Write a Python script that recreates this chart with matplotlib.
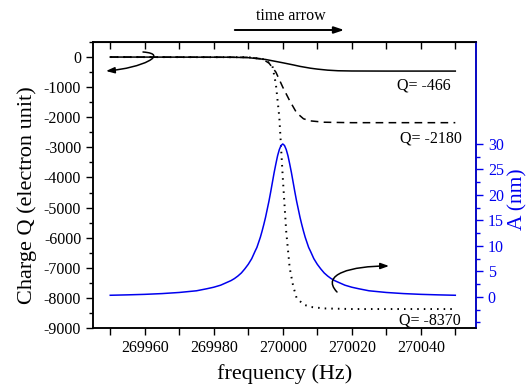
import matplotlib
matplotlib.use("Agg")
from matplotlib import pyplot as plt
from matplotlib.path import Path
from matplotlib.patches import FancyArrowPatch
from matplotlib.ticker import MultipleLocator, FixedLocator, NullFormatter, ScalarFormatter

plt.rcParams['font.family'] = ['Liberation Serif', 'DejaVu Serif']
plt.rcParams['axes.unicode_minus'] = False

# amplitude curve (right axis, nm)
freq_a = [269950, 269955, 269960, 269965, 269970, 269975, 269978, 269980, 269982,
          269983, 269985, 269986, 269987, 269988, 269989, 269990, 269991, 269992,
          269992.5, 269993, 269993.5, 269994, 269994.5, 269995, 269995.5, 269996,
          269996.5, 269997, 269997.5, 269998, 269998.5, 269999, 269999.5, 270000,
          270000.5, 270001, 270001.5, 270002, 270002.5, 270003, 270003.5, 270004,
          270004.5, 270005, 270005.5, 270006, 270006.5, 270007, 270007.5, 270008,
          270009, 270010, 270011, 270012, 270013, 270014, 270015, 270017, 270018,
          270020, 270022, 270025, 270030, 270035, 270040, 270045, 270050]
amp = [0.32, 0.4, 0.5, 0.65, 0.87, 1.2, 1.6, 1.9, 2.3,
       2.6, 3.2, 3.6, 4.1, 4.7, 5.5, 6.4, 7.5, 9.0,
       9.7, 10.7, 11.7, 12.9, 14.2, 15.6, 17.2, 18.8,
       20.6, 22.5, 24.4, 26.1, 27.7, 28.9, 29.7, 30.0,
       29.7, 28.9, 27.7, 26.1, 24.4, 22.5, 20.6, 18.8,
       17.2, 15.6, 14.2, 12.9, 11.7, 10.7, 9.7, 9.0,
       7.5, 6.4, 5.5, 4.7, 4.1, 3.6, 3.2, 2.6, 2.3,
       1.9, 1.6, 1.2, 0.87, 0.65, 0.5, 0.4, 0.32]

# charge curves (left axis, electron units)
freq_q1 = [269950, 269985, 269990, 269995, 270000, 270003, 270005, 270008,
           270010, 270013, 270016, 270020, 270030, 270050]
q1 = [0, -5, -20, -80, -190, -260, -310, -370, -400, -435, -455, -463, -466, -466]

freq_q2 = [269950, 269990, 269994, 269996, 269998, 270000, 270002, 270004,
           270006, 270008, 270012, 270020, 270050]
q2 = [0, -10, -60, -200, -500, -1000, -1450, -1850, -2050, -2120, -2165, -2180, -2180]

freq_q3 = [269950, 269990, 269995, 269997, 269998, 269999, 270000, 270001,
           270002, 270003, 270004, 270006, 270008, 270012, 270020, 270050]
q3 = [0, -5, -80, -300, -900, -2000, -4000, -5800, -7000, -7600, -8000,
      -8220, -8300, -8350, -8370, -8370]

labels_q = ["Q= -466", "Q= -2180", "Q= -8370"]

W, H = 526, 392
fig = plt.figure(figsize=(W / 100, H / 100), dpi=100)
ax = fig.add_axes([93 / W, 1 - 328 / H, 383 / W, 286 / H])
ax2 = ax.twinx()

ax.plot(freq_q1, q1, color='black', lw=1.1)
ax.plot(freq_q2, q2, color='black', lw=1.1, linestyle=(0, (5, 3.5)))
ax.plot(freq_q3, q3, color='black', lw=1.4, linestyle=(0, (0.8, 2.6)))
ax2.plot(freq_a, amp, color='#0000ee', lw=1.1)

ax.set_xlim(269945, 270056)
ax.set_ylim(-9000, 500)
ax2.set_ylim(-6.1, 50)

ax.xaxis.set_major_locator(FixedLocator([269960, 269980, 270000, 270020, 270040]))
ax.xaxis.set_minor_locator(FixedLocator([269950, 269970, 269990, 270010, 270030, 270050]))
fmt = ScalarFormatter(useOffset=False)
fmt.set_scientific(False)
ax.xaxis.set_major_formatter(fmt)
ax.yaxis.set_major_locator(MultipleLocator(1000))
ax.yaxis.set_minor_locator(MultipleLocator(500))
ax.tick_params(axis='both', which='both', direction='out', labelsize=11.5, width=1)
ax.tick_params(axis='both', which='major', length=5)
ax.tick_params(axis='y', which='minor', length=3)
ax.tick_params(axis='x', which='minor', length=5)

top = ax.secondary_xaxis('top')
top.xaxis.set_major_locator(MultipleLocator(10))
top.xaxis.set_major_formatter(NullFormatter())
top.tick_params(direction='in', length=5, width=1)

ax2.yaxis.set_major_locator(FixedLocator([0, 5, 10, 15, 20, 25, 30]))
ax2.yaxis.set_minor_locator(FixedLocator([-5, -2.5, 2.5, 7.5, 12.5, 17.5, 22.5, 27.5]))
ax2.tick_params(axis='y', which='both', colors='#0000ee', labelsize=11.5, width=1)
ax2.tick_params(axis='y', which='major', length=5)
ax2.tick_params(axis='y', which='minor', length=3)
for a in (ax, ax2):
    for s in a.spines.values():
        s.set_linewidth(1.1)
ax2.spines['right'].set_color('#0000ee')

ax.set_xlabel("frequency (Hz)", fontsize=16, labelpad=6)
ax.set_ylabel("Charge Q (electron unit)", fontsize=16)
ax.yaxis.set_label_coords(-0.145, 0.465)
ax2.set_ylabel("A (nm)", fontsize=15.5, color='#0000ee')
ax2.yaxis.set_label_coords(1.083, 0.45)

ax.text(270041, -930, labels_q[0], fontsize=11.5, ha='center', va='center')
ax.text(270043, -2720, labels_q[1], fontsize=11.5, ha='center', va='center')
ax.text(270042.5, -8740, labels_q[2], fontsize=11.5, ha='center', va='center')


def px(x, y):
    return (x / W, 1 - y / H)


fig.text(*px(291, 16), "time arrow", fontsize=11.5, ha='center', va='center')
fig.patches.append(FancyArrowPatch(px(232, 30), px(347, 30), transform=fig.transFigure,
                                   arrowstyle='-|>,head_length=0.6,head_width=0.2',
                                   mutation_scale=10, color='black', lw=1.4))

curve_codes = [Path.MOVETO, Path.CURVE4, Path.CURVE4, Path.CURVE4]
hook1 = Path([px(143, 52), px(170, 54), px(142, 68), px(106, 71)], curve_codes)
hook2 = Path([px(337, 292), px(320, 274), px(352, 266), px(389, 266)], curve_codes)
for p in (hook1, hook2):
    fig.patches.append(FancyArrowPatch(path=p, transform=fig.transFigure,
                                       arrowstyle='-|>,head_length=0.5,head_width=0.18',
                                       mutation_scale=10, color='black', lw=1.1))

fig.savefig("out.png", dpi=100)
